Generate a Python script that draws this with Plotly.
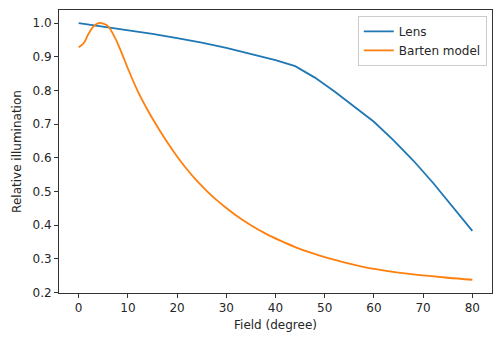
import plotly.graph_objects as go

lens_x = [0, 5, 10, 15, 20, 25, 30, 35, 40, 44, 48, 52, 56, 60, 64, 68, 72, 76, 80]
lens_y = [1.0, 0.990, 0.980, 0.968, 0.955, 0.942, 0.926, 0.909, 0.890, 0.872, 0.838, 0.797, 0.753, 0.707, 0.652, 0.592, 0.526, 0.455, 0.383]

barten_x = [0, 1, 2, 3, 4, 5, 6, 7, 8, 9, 10, 12, 14, 16, 18, 20, 22, 24, 26, 28, 30, 32, 35, 38, 41, 44, 47, 50,
            55, 60, 65, 70, 75, 80]
barten_y = [0.928, 0.940, 0.968, 0.990, 1.000, 0.998, 0.990, 0.967, 0.937, 0.902, 0.865, 0.798, 0.742, 0.692, 0.646,
            0.604, 0.566, 0.532, 0.502, 0.475, 0.451, 0.429, 0.400, 0.375, 0.354, 0.335, 0.319, 0.305, 0.286, 0.270,
            0.259, 0.251, 0.244, 0.238]

x_ticks = [0, 10, 20, 30, 40, 50, 60, 70, 80]
y_ticks = [0.2, 0.3, 0.4, 0.5, 0.6, 0.7, 0.8, 0.9, 1.0]

fig = go.Figure()
fig.add_trace(go.Scatter(x=lens_x, y=lens_y, mode="lines", name="Lens",
                         line=dict(color="#1f77b4", width=1.8)))
fig.add_trace(go.Scatter(x=barten_x, y=barten_y, mode="lines", name="Barten model",
                         line=dict(color="#ff7f0e", width=1.8, shape="spline", smoothing=1.0)))

font = dict(family="DejaVu Sans", size=12, color="#262626")
fig.update_layout(
    width=497, height=338,
    margin=dict(l=59, r=5, t=10, b=45),
    paper_bgcolor="white", plot_bgcolor="white",
    font=font,
    showlegend=True,
    legend=dict(x=0.988, y=0.979, xanchor="right", yanchor="top",
                bgcolor="rgba(255,255,255,0.8)", bordercolor="#cccccc", borderwidth=1,
                font=font, itemwidth=30, tracegroupgap=0),
    xaxis=dict(range=[-4, 84], tickvals=x_ticks, ticktext=[str(v) for v in x_ticks],
               showgrid=False, zeroline=False, showline=True, linecolor="#333333", linewidth=1,
               mirror=True, ticks="outside", ticklen=4, tickcolor="#333333",
               title=dict(text="Field (degree)", font=font, standoff=6)),
    yaxis=dict(range=[0.1987, 1.0387], tickvals=y_ticks, ticktext=["%.1f" % v for v in y_ticks],
               showgrid=False, zeroline=False, showline=True, linecolor="#333333", linewidth=1,
               mirror=True, ticks="outside", ticklen=4, tickcolor="#333333",
               title=dict(text="Relative illumination", font=font, standoff=8)),
)

fig.write_html("out.html")
